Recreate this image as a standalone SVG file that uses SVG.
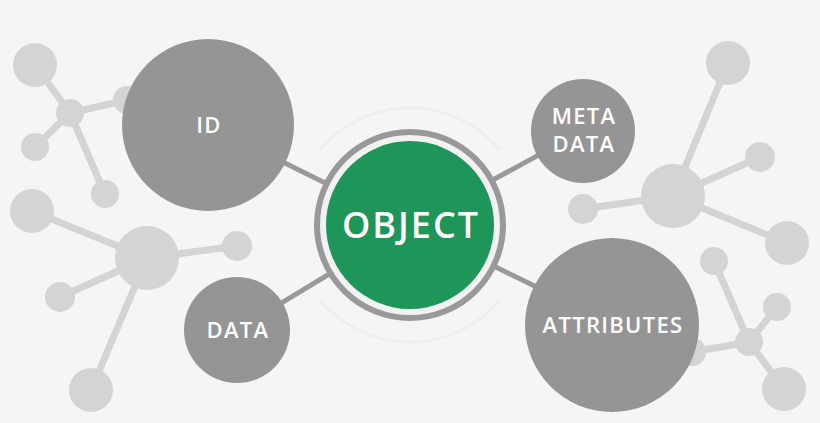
<svg xmlns="http://www.w3.org/2000/svg" width="820" height="423" viewBox="0 0 820 423">
<style>
.bg line{stroke:#d4d4d4;stroke-width:7}
.bg circle{fill:#d4d4d4}
.node{fill:#959595}
.lbl{fill:#fff;font-family:"Open Sans","Liberation Sans",sans-serif;font-weight:600;font-size:22px;text-anchor:middle;letter-spacing:1.3px}
#connectors line{stroke:#999;stroke-width:5}
</style>
<rect width="820" height="423" fill="#f5f5f5"/>
<g class="bg">
<line x1="70" y1="113" x2="35" y2="65"/><line x1="70" y1="113" x2="35" y2="147"/><line x1="70" y1="113" x2="105" y2="194"/><line x1="70" y1="113" x2="127" y2="100"/>
<circle cx="35" cy="65" r="22"/><circle cx="70" cy="113" r="14"/><circle cx="35" cy="147" r="14"/><circle cx="105" cy="194" r="14"/><circle cx="127" cy="100" r="14"/>
<line x1="147" y1="258" x2="32" y2="211"/><line x1="147" y1="258" x2="60" y2="297"/><line x1="147" y1="258" x2="237" y2="246"/><line x1="147" y1="258" x2="91" y2="390"/>
<circle cx="147" cy="258" r="32"/><circle cx="32" cy="211" r="22"/><circle cx="60" cy="297" r="15"/><circle cx="237" cy="246" r="15"/><circle cx="91" cy="390" r="22"/>
<line x1="673" y1="196" x2="728" y2="63"/><line x1="673" y1="196" x2="760" y2="157"/><line x1="673" y1="196" x2="583" y2="209"/><line x1="673" y1="196" x2="787" y2="243"/>
<circle cx="673" cy="196" r="32"/><circle cx="728" cy="63" r="22"/><circle cx="760" cy="157" r="15"/><circle cx="583" cy="209" r="15"/><circle cx="787" cy="243" r="22"/>
<line x1="749" y1="342" x2="714" y2="261"/><line x1="749" y1="342" x2="777" y2="307"/><line x1="749" y1="342" x2="784" y2="389"/><line x1="749" y1="342" x2="692" y2="352"/>
<circle cx="749" cy="342" r="14"/><circle cx="714" cy="261" r="14"/><circle cx="777" cy="307" r="14"/><circle cx="784" cy="389" r="22"/><circle cx="692" cy="352" r="14"/>
</g>
<path d="M 320 150 A 117 117 0 0 1 500 150 M 500 300 A 117 117 0 0 1 320 300" fill="none" stroke="#eeeeee" stroke-width="3"/>
<g id="connectors">
<line x1="410" y1="225" x2="208" y2="125"/><line x1="410" y1="225" x2="583" y2="131"/><line x1="410" y1="225" x2="237" y2="330"/><line x1="410" y1="225" x2="612" y2="324"/>
</g>
<g id="object">
<circle cx="410" cy="225" r="93" fill="#f2f2f2" stroke="#999" stroke-width="6"/>
<circle cx="410" cy="225" r="84" fill="#1e9659"/>
<text x="411" y="238" class="lbl" style="font-size:36px;letter-spacing:2px">OBJECT</text>
</g>
<g id="id"><circle cx="208" cy="125" r="86" class="node"/><text x="209" y="133" class="lbl">ID</text></g>
<g id="data"><circle cx="237" cy="330" r="53" class="node"/><text x="238" y="338" class="lbl">DATA</text></g>
<g id="metadata"><circle cx="583" cy="131" r="52" class="node"/><text x="584" y="124" class="lbl">META</text><text x="584" y="152" class="lbl">DATA</text></g>
<g id="attributes"><circle cx="612" cy="325" r="87" class="node"/><text x="613" y="333" class="lbl">ATTRIBUTES</text></g>
</svg>
